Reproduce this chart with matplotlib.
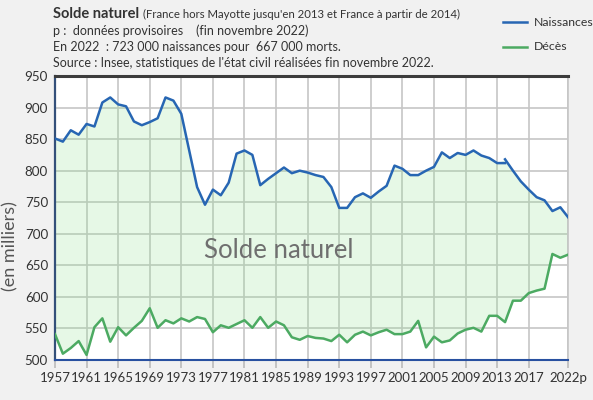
# Solde naturel : naissances et décès en France, 1957-2022
import matplotlib.pyplot as plt
from matplotlib.lines import Line2D

plt.rcParams['font.family'] = ['Lato', 'DejaVu Sans']

# naissances (milliers), France hors Mayotte 1957-2014
annees_fhm = list(range(1957, 2015))
naissances_fhm = [851, 846, 864, 857, 874, 870, 908, 916, 905, 902,
                  878, 872, 877, 883, 916, 911, 890, 832, 774, 746,
                  770, 761, 781, 827, 832, 825, 777, 787, 796, 805,
                  796, 800, 797, 793, 790, 774, 741, 741, 758, 764,
                  757, 767, 776, 808, 803, 793, 793, 800, 806, 829,
                  820, 828, 825, 832, 824, 820, 812, 812]
# naissances, France (avec Mayotte) 2014-2022
annees_fr = list(range(2014, 2023))
naissances_fr = [818, 800, 783, 770, 758, 753, 736, 742, 726]

# décès (milliers) 1957-2022
annees_dc = list(range(1957, 2023))
deces = [541, 510, 519, 530, 508, 552, 566, 529, 552, 539,
         551, 562, 582, 551, 563, 558, 566, 561, 568, 565,
         544, 555, 551, 557, 563, 551, 568, 551, 561, 555,
         536, 532, 538, 535, 534, 530, 540, 528, 540, 545,
         539, 544, 548, 541, 541, 545, 562, 520, 537, 528,
         531, 542, 548, 551, 545, 570, 570, 560, 594, 594,
         606, 610, 613, 668, 662, 667]

ticks = list(range(1957, 2018, 4)) + [2022]
tick_labels = [str(t) for t in ticks[:-1]] + ['2022p']

bleu = '#2766b3'
vert = '#4caa62'
texte = '#333333'

fig = plt.figure(figsize=(5.93, 4.0), dpi=100)
fig.patch.set_facecolor('#f1f1f1')
ax = fig.add_axes([0.0927, 0.1, 0.8655, 0.71])
ax.set_facecolor('white')

# enveloppe des naissances pour le remplissage
naiss_env = naissances_fhm[:-1] + naissances_fr
ax.fill_between(annees_dc, deces, naiss_env, color='#8fe38f', alpha=0.22,
                linewidth=0, zorder=2)

ax.plot(annees_fhm, naissances_fhm, color=bleu, lw=1.8, zorder=4)
ax.plot(annees_fr, naissances_fr, color=bleu, lw=1.8, zorder=4)
ax.plot(annees_dc, deces, color=vert, lw=1.8, zorder=4)

ax.set_xlim(1957, 2022)
ax.set_ylim(500, 950)
ax.set_xticks(ticks)
ax.set_xticklabels(tick_labels)
ax.set_yticks(range(500, 951, 50))
ax.tick_params(axis='y', length=0, labelsize=9.6, pad=5, labelcolor=texte)
ax.tick_params(axis='x', length=6, color='#bbbbbb', width=1.2, pad=3,
               labelsize=9.5, labelcolor=texte)
ax.grid(True, color='#c6c6c6', lw=1.2, zorder=1)
ax.set_axisbelow(True)

ax.spines['top'].set_color('#3c3c3c')
ax.spines['top'].set_linewidth(2.2)
ax.spines['left'].set_color('#34507a')
ax.spines['left'].set_linewidth(1.6)
ax.spines['bottom'].set_color('#2850a0')
ax.spines['bottom'].set_linewidth(1.5)
ax.spines['right'].set_color('#c6c6c6')
ax.spines['right'].set_linewidth(1.2)

ax.set_ylabel('(en milliers)', fontsize=13, color='#555555')
ax.yaxis.set_label_coords(-0.072, 0.40)

ax.text(1985.3, 674, 'Solde naturel', fontsize=18.5, color='#6f6f6f',
        ha='center', va='center', zorder=5)

# titre et notes
x0 = 53 / 593
t1 = fig.text(x0, 1 - 14 / 400, 'Solde naturel', fontsize=10.5, fontweight='bold',
              color=texte, va='center')
fig.canvas.draw()
bb = t1.get_window_extent()
fig.text((bb.x1 + 4) / 593, 1 - 14 / 400,
         "(France hors Mayotte jusqu'en 2013 et France à partir de 2014)",
         fontsize=8.2, color=texte, va='center')
fig.text(x0, 1 - 31 / 400, 'p :  données provisoires    (fin novembre 2022)',
         fontsize=9, color=texte, va='center')
fig.text(x0, 1 - 47 / 400, 'En 2022  : 723 000 naissances pour  667 000 morts.',
         fontsize=9, color=texte, va='center')
fig.text(x0, 1 - 63 / 400, "Source : Insee, statistiques de l'état civil réalisées fin novembre 2022.",
         fontsize=9, color=texte, va='center')

# légende
for i, (nom, coul) in enumerate([('Naissances', bleu), ('Décès', vert)]):
    y = 1 - (22 + 24.5 * i) / 400
    fig.add_artist(Line2D([503 / 593, 527 / 593], [y, y], color=coul, lw=1.8))
    fig.text(534 / 593, y, nom, fontsize=8.8, color=texte, va='center')

fig.savefig('out.png', dpi=100, facecolor=fig.get_facecolor())
